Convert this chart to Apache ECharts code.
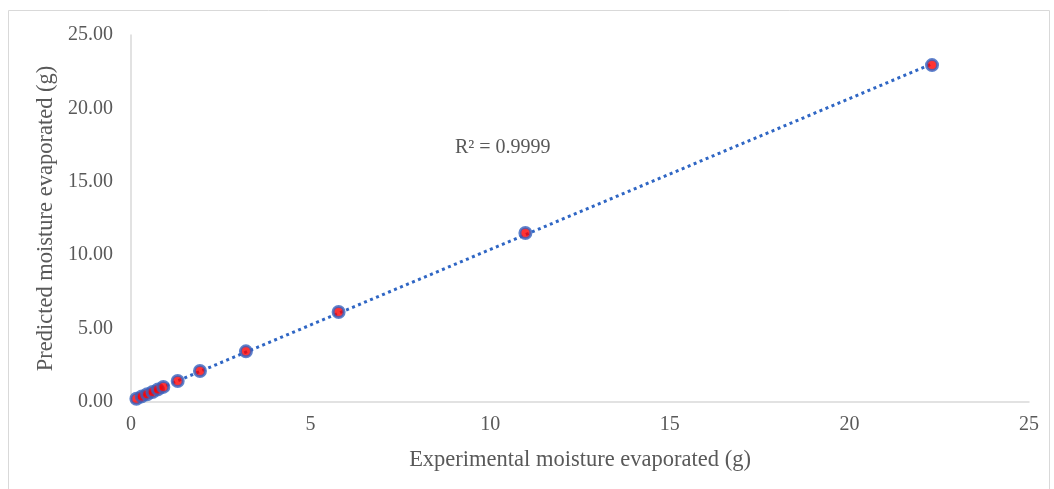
<!DOCTYPE html>
<html><head><meta charset="utf-8">
<script src="https://cdn.jsdelivr.net/npm/echarts@6/dist/echarts.min.js"></script>
<style>html,body{margin:0;padding:0;background:#fff}#c{width:1054px;height:489px}</style>
</head><body><div id="c"></div>
<script>
const experimental = [0.15, 0.30, 0.45, 0.60, 0.75, 0.90, 1.30, 1.92, 3.20, 5.78, 10.98, 22.30];
const predicted    = [0.22, 0.38, 0.53, 0.68, 0.86, 1.03, 1.43, 2.11, 3.45, 6.13, 11.51, 22.95];
const rSquaredLabel = 'R² = 0.9999';
const xTitle = 'Experimental moisture evaporated (g)';
const yTitle = 'Predicted moisture evaporated (g)';

// least-squares linear trendline from the data
const n = experimental.length;
const mx = experimental.reduce((a,b)=>a+b,0)/n;
const my = predicted.reduce((a,b)=>a+b,0)/n;
let sxy=0,sxx=0;
for(let i=0;i<n;i++){sxy+=(experimental[i]-mx)*(predicted[i]-my);sxx+=(experimental[i]-mx)**2;}
const slope=sxy/sxx, intercept=my-slope*mx;
const xmin=Math.min(...experimental), xmax=Math.max(...experimental);
const trend=[[xmin,intercept+slope*xmin],[xmax,intercept+slope*xmax]];

const font='"Liberation Serif","Times New Roman",serif';
const gray='#595959';
const chart=echarts.init(document.getElementById('c'));
chart.setOption({
  animation:false,
  graphic:[{type:'rect',shape:{x:8.5,y:10.5,width:1041,height:500},style:{fill:'none',stroke:'#d9d9d9',lineWidth:1},silent:true},
           {type:'text',left:455,top:138,style:{text:rSquaredLabel,font:'20px '+font,fill:gray}}],
  grid:{left:131,right:25,top:35,bottom:87},
  xAxis:{type:'value',min:0,max:25,interval:5,
    name:xTitle,nameLocation:'middle',nameGap:47,
    nameTextStyle:{fontFamily:font,fontSize:22.5,color:gray},
    axisLine:{show:true,lineStyle:{color:'#d9d9d9',width:1.5}},
    axisTick:{show:false},splitLine:{show:false},
    axisLabel:{fontFamily:font,fontSize:20,color:gray,margin:13}},
  yAxis:{type:'value',min:0,max:25,interval:5,
    name:yTitle,nameLocation:'middle',nameGap:66,
    nameTextStyle:{fontFamily:font,fontSize:22.5,color:gray},
    axisLine:{show:true,lineStyle:{color:'#d9d9d9',width:1.5}},
    axisTick:{show:false},splitLine:{show:false},
    axisLabel:{fontFamily:font,fontSize:20,color:gray,margin:18,padding:[4,0,0,0],formatter:v=>v.toFixed(2)}},
  series:[
    {type:'line',data:trend,symbol:'none',lineStyle:{color:'#2f66c4',width:3,type:[3,3.5]},z:1},
    {type:'scatter',data:experimental.map((x,i)=>[x,predicted[i]]),symbolSize:11,
     itemStyle:{color:'#ff0000',borderColor:'#3563c0',borderWidth:3},z:2}
  ]
});
</script></body></html>
